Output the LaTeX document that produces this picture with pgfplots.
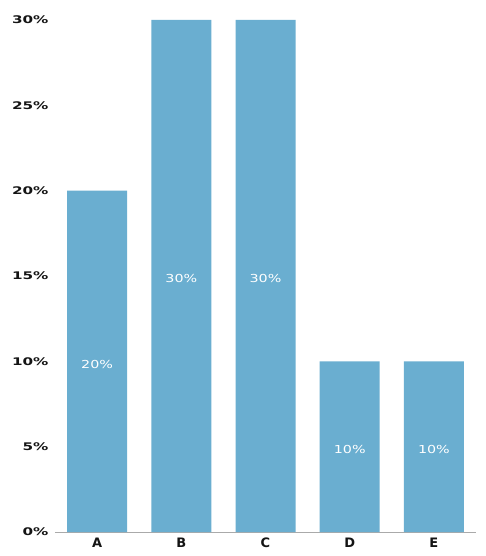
\documentclass[border=0pt]{standalone}
\usepackage{fontspec}
\setmainfont{DejaVu Sans}
\usepackage{pgfplots}
\pgfplotsset{compat=1.18}
\definecolor{barblue}{RGB}{106,174,208}
\definecolor{axgray}{RGB}{170,170,170}
\definecolor{txt}{RGB}{20,20,20}
\begin{document}
\begin{tikzpicture}
\begin{axis}[
  scale only axis,
  width=421pt, height=512pt,
  xmin=-0.5, xmax=4.5, ymin=0, ymax=30,
  axis x line*=bottom,
  axis y line*=left,
  y axis line style={draw=none},
  x axis line style={axgray, line width=1pt},
  /pgf/number format/assume math mode=true,
  ytick={0,5,10,15,20,25,30},
  xtick=data,
  xticklabels={A,B,C,D,E},
  major tick length=0pt,
  tick style={draw=none},
  yticklabel={\scalebox{1.45}[1]{\bfseries\pgfmathprintnumber{\tick}\%}},
  yticklabel style={font=\fontsize{10.5}{12}\selectfont, text=txt, anchor=east, xshift=-3pt},
  xticklabel style={font=\bfseries\fontsize{13}{15}\selectfont, text=txt, yshift=-2pt},
  bar width=60pt,
  clip=false,
  visualization depends on=y \as \rawy,
  nodes near coords={\scalebox{1.3}[1]{\pgfmathprintnumber{\pgfplotspointmeta}\%}},
  every node near coord/.append style={font=\fontsize{11}{13}\selectfont, text=white, anchor=center, shift={(axis direction cs:0,-\rawy/2)}, yshift=-3pt},
]
\addplot[ybar, fill=barblue, draw=none] coordinates {(0,20) (1,30) (2,30) (3,10) (4,10)};
\end{axis}
\path[use as bounding box] ([xshift=-55pt,yshift=-24pt]current axis.south west) rectangle ([xshift=9pt,yshift=20pt]current axis.north east);
\end{tikzpicture}
\end{document}
